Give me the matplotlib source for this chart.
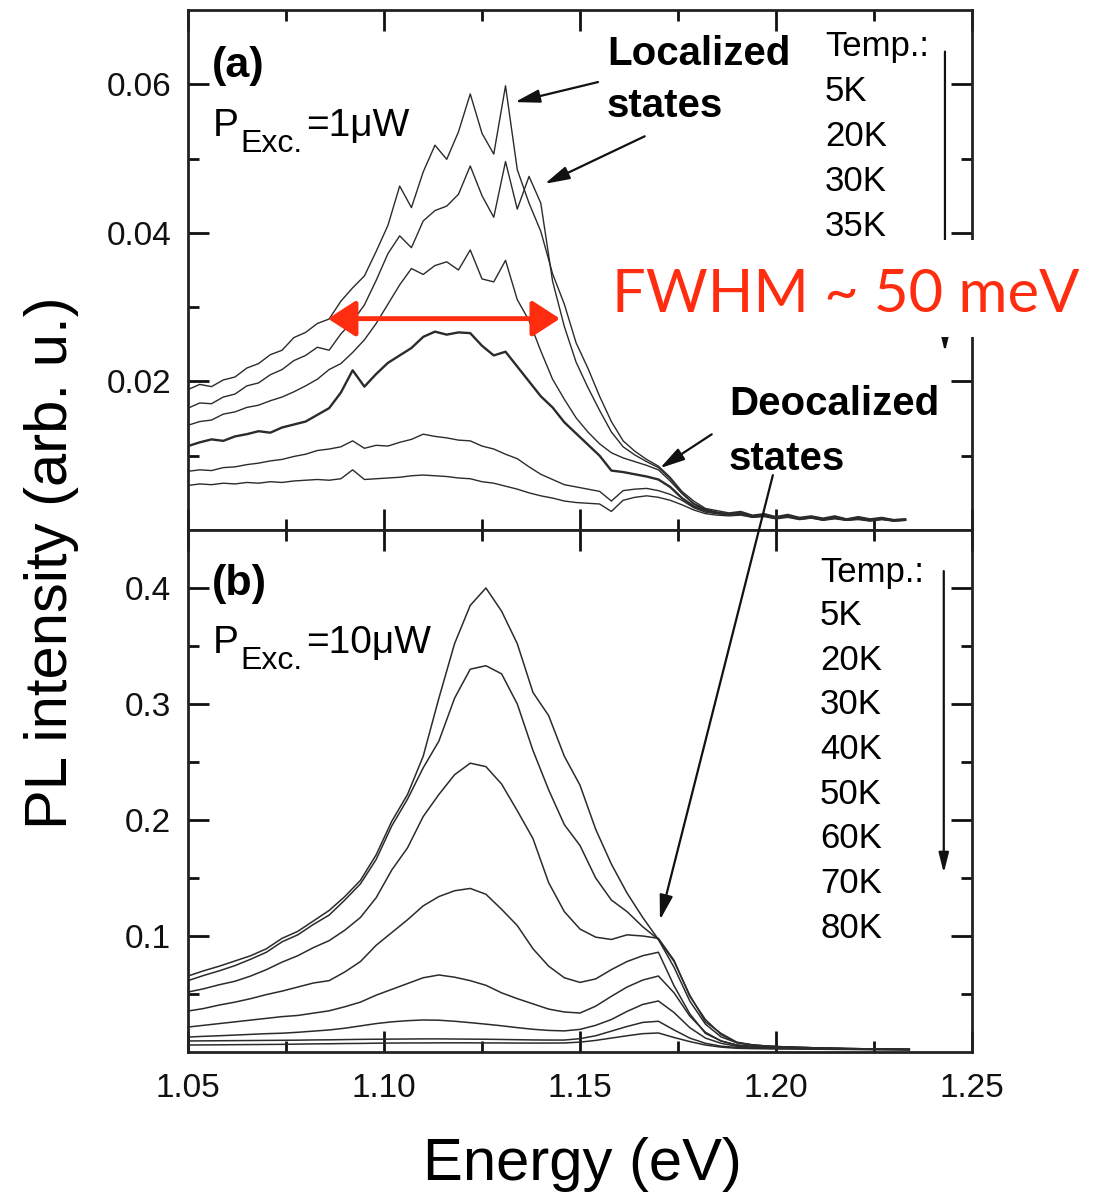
import numpy as np
import matplotlib
matplotlib.use("Agg")
import matplotlib.pyplot as plt
from matplotlib.patches import Rectangle, ConnectionPatch
from matplotlib.ticker import FixedLocator, FormatStrFormatter

plt.rcParams['font.family'] = ['Liberation Sans', 'DejaVu Sans']

W, H = 1108, 1193

# ---- panel (a): P_exc = 1 uW, values in units of 1e-3 (arb. u.) ----
# sampling grid used for reading the spectra (step 3 meV)
energy_a = np.round(np.arange(62) * 0.003 + 1.050, 3)
temps_a = ['5K', '20K', '30K', '35K']
pl_a_5K = [18.9, 19.6, 19.3, 20.2, 20.6, 21.8, 22.4, 23.6, 24.2, 25.9, 26.6, 27.8, 28.4, 30.8, 32.6, 34.2,
           37.5, 41.0, 46.3, 43.4, 48.2, 51.8, 49.9, 53.6, 58.7, 53.4, 50.6, 59.8, 48.5, 44.0, 40.2, 34.5,
           30.4, 25.2, 21.8, 18.0, 14.6, 12.0, 10.6, 9.5, 8.6, 7.1, 5.2, 3.9, 2.9, 2.6, 2.3, 2.5, 2.0, 2.2,
           1.8, 2.1, 1.7, 1.9, 1.6, 1.9, 1.5, 1.8, 1.5, 1.7, 1.4, 1.5]
pl_a_20K = [16.4, 17.1, 17.0, 17.9, 18.3, 19.4, 19.8, 20.9, 21.6, 22.8, 23.5, 24.6, 24.2, 26.4, 28.1, 30.3,
            33.6, 37.2, 39.6, 38.0, 41.6, 43.0, 43.6, 45.2, 49.0, 45.0, 42.1, 49.6, 43.2, 47.6, 44.0, 33.5,
            27.4, 22.6, 19.2, 16.1, 13.2, 11.2, 10.1, 9.2, 8.4, 6.9, 5.0, 3.6, 2.8, 2.4, 2.2, 2.4, 1.9, 2.1,
            1.7, 2.0, 1.6, 1.8, 1.5, 1.8, 1.4, 1.7, 1.4, 1.6, 1.3, 1.4]
pl_a_30K = [14.1, 14.6, 14.8, 15.6, 15.9, 16.5, 16.8, 17.4, 17.9, 18.6, 19.4, 20.3, 21.6, 22.4, 23.9, 25.6,
            27.8, 30.4, 33.0, 35.2, 34.4, 35.6, 36.1, 35.0, 37.7, 33.8, 33.4, 36.3, 31.0, 28.2, 24.1, 20.3,
            17.6, 15.1, 13.2, 11.6, 10.4, 9.7, 9.2, 8.7, 8.1, 6.6, 4.9, 3.5, 2.7, 2.3, 2.1, 2.3, 1.8, 2.0,
            1.7, 1.9, 1.5, 1.8, 1.5, 1.7, 1.4, 1.6, 1.3, 1.6, 1.3, 1.4]
pl_a_35K = [11.3, 11.8, 12.2, 12.0, 12.6, 12.9, 13.3, 13.1, 13.8, 14.2, 14.6, 15.5, 16.4, 18.5, 21.5, 19.3,
            21.0, 22.5, 23.5, 24.5, 26.0, 26.7, 26.3, 26.6, 26.5, 24.8, 23.5, 24.0, 22.0, 20.0, 18.0, 16.5,
            14.5, 13.0, 11.5, 10.0, 8.0, 7.8, 7.5, 7.2, 6.8, 5.8, 4.3, 3.2, 2.6, 2.3, 2.1, 2.2, 1.8, 2.0,
            1.6, 1.9, 1.5, 1.7, 1.4, 1.7, 1.4, 1.6, 1.3, 1.5, 1.3, 1.4]
pl_a_40K = [7.9, 8.1, 8.0, 8.4, 8.5, 8.8, 9.0, 9.3, 9.5, 9.9, 10.2, 10.7, 10.9, 11.2, 12.0, 11.0,
            11.4, 11.3, 11.8, 12.2, 12.9, 12.6, 12.4, 12.1, 12.0, 11.3, 10.9, 10.2, 9.6, 8.5, 7.5, 6.8,
            6.1, 5.8, 5.5, 5.2, 3.9, 5.3, 5.5, 5.6, 5.3, 4.8, 4.0, 3.0, 2.4, 2.2, 2.0, 2.1, 1.8, 1.9,
            1.6, 1.8, 1.5, 1.7, 1.4, 1.6, 1.3, 1.5, 1.3, 1.5, 1.2, 1.3]
pl_a_50K = [6.0, 6.2, 6.1, 6.3, 6.2, 6.4, 6.3, 6.5, 6.4, 6.6, 6.7, 6.8, 6.7, 6.9, 8.1, 6.8,
            6.9, 7.0, 7.1, 7.3, 7.4, 7.3, 7.2, 7.0, 6.9, 6.5, 6.3, 5.9, 5.5, 5.0, 4.6, 4.3,
            3.9, 3.7, 3.6, 3.5, 2.5, 4.0, 4.4, 4.6, 4.4, 4.0, 3.4, 2.7, 2.2, 2.0, 1.9, 2.0, 1.7, 1.8,
            1.5, 1.7, 1.4, 1.6, 1.3, 1.5, 1.3, 1.4, 1.2, 1.4, 1.2, 1.3]
spectra_a = [pl_a_5K, pl_a_20K, pl_a_30K, pl_a_35K, pl_a_40K, pl_a_50K]
widths_a = [1.0, 1.0, 1.0, 1.7, 1.0, 1.0]

# ---- panel (b): P_exc = 10 uW, values in units of 1e-3 (arb. u.) ----
energy_b = np.round(np.arange(47) * 0.004 + 1.050, 3)
temps_b = ['5K', '20K', '30K', '40K', '50K', '60K', '70K', '80K']
pl_b_5K = [65.5, 70, 74, 78.5, 83, 89, 98, 104, 113, 122, 134, 148, 170, 199, 222, 255, 305, 352, 385, 400,
           380, 352, 310, 290, 255, 230, 192, 162, 137, 116, 97, 73, 44, 24, 13, 8, 6, 5, 4.4, 4.0,
           3.6, 3.3, 3.0, 2.8, 2.6, 2.4, 2.3]
pl_b_20K = [61.5, 66, 70, 74.5, 80, 86, 95, 101, 110, 118, 131, 145, 166, 195, 218, 245, 268, 305, 330, 333,
            326, 300, 260, 226, 196, 178, 150, 131, 121, 108, 97, 78, 49, 26, 16, 8.5, 6.2, 5.1, 4.5, 4.0,
            3.6, 3.3, 3.0, 2.8, 2.6, 2.4, 2.3]
pl_b_30K = [51.7, 54.5, 58, 61, 65.5, 71, 77.5, 83, 90, 96, 105, 116, 133, 157, 176, 203, 222, 239, 249, 246,
            231, 208, 184, 146, 121, 106, 99, 97, 101, 100, 98, 79, 48, 28, 15, 8, 6, 5, 4.4, 4.0,
            3.6, 3.3, 3.0, 2.8, 2.6, 2.4, 2.3]
pl_b_40K = [35.3, 37.5, 40.5, 43, 46, 49.5, 52.5, 56, 59.5, 61.5, 69, 78, 92, 103, 114, 126, 134, 139, 141, 136,
            123, 109, 89, 74, 64, 60, 63, 71, 78, 83, 86, 57, 33, 16, 9.5, 6, 4.8, 4.2, 3.8, 3.5,
            3.2, 3.0, 2.8, 2.6, 2.4, 2.3, 2.2]
pl_b_50K = [21.5, 23, 24.5, 26, 27.5, 29, 30.5, 31.5, 33.5, 35.5, 39, 43, 49, 54, 59, 64, 66.4, 64.5, 61.5, 57.5,
            51, 46, 41.5, 37, 34.5, 33.6, 39.5, 48, 56, 62, 65.5, 51, 31, 17, 9.5, 6, 4.8, 4.2, 3.8, 3.5,
            3.2, 3.0, 2.8, 2.6, 2.4, 2.3, 2.2]
pl_b_60K = [12.9, 13.5, 14, 14.6, 15.2, 15.8, 16.2, 17, 18, 19, 20.5, 22.5, 24.5, 26, 27, 27.6, 27.4, 26.5, 25.3, 24,
            22.6, 21, 19.6, 18.6, 18.2, 19.5, 23, 28, 35, 41, 44, 34, 21, 12, 7.5, 5, 4.2, 3.7, 3.4, 3.1,
            2.9, 2.7, 2.5, 2.4, 2.3, 2.2, 2.1]
pl_b_70K = [9.5, 9.6, 9.7, 9.8, 9.9, 10.0, 10.1, 10.2, 10.4, 10.5, 10.7, 10.9, 11.0, 11.1, 11.2, 11.3, 11.3, 11.2,
            11.1, 11.0, 10.8, 10.6, 10.4, 10.3, 10.3, 11.5, 14, 18, 22, 25.5, 26.5, 19, 12, 7.5, 5, 4.0,
            3.5, 3.2, 3.0, 2.8, 2.6, 2.5, 2.4, 2.3, 2.2, 2.1, 2.0]
pl_b_80K = [6.0, 6.1, 6.2, 6.3, 6.4, 6.5, 6.6, 6.8, 7.0, 7.1, 7.3, 7.4, 7.6, 7.7, 7.8, 7.8, 7.9, 7.9, 7.9, 7.8,
            7.8, 7.7, 7.7, 7.7, 7.8, 8.5, 10, 12, 14, 15.8, 16.4, 12.5, 9, 6, 4.2, 3.2, 2.9, 2.7, 2.6, 2.5,
            2.4, 2.3, 2.2, 2.1, 2.0, 2.0, 1.9]
spectra_b = [pl_b_5K, pl_b_20K, pl_b_30K, pl_b_40K, pl_b_50K, pl_b_60K, pl_b_70K, pl_b_80K]

line_color = '#2b2b2b'
red = '#ff2d10'


def px(x, y):
    """pixel position (from top-left) -> figure fraction"""
    return x / W, 1 - y / H


fig = plt.figure(figsize=(W / 100, H / 100), dpi=100)
ax1 = fig.add_axes([188 / W, 1 - 530 / H, 784 / W, 520 / H])
ax2 = fig.add_axes([188 / W, 1 - 1052 / H, 784 / W, 522 / H])

for spec, lw in zip(spectra_a, widths_a):
    ax1.plot(energy_a, np.array(spec) * 1e-3, color=line_color, lw=lw)
for spec in spectra_b:
    ax2.plot(energy_b, np.array(spec) * 1e-3, color=line_color, lw=1.1)

ax1.set_ylim(0, 0.07)
ax2.set_ylim(0, 0.45)
ax1.yaxis.set_major_locator(FixedLocator([0.02, 0.04, 0.06]))
ax1.yaxis.set_minor_locator(FixedLocator([0.01, 0.03, 0.05]))
ax1.yaxis.set_major_formatter(FormatStrFormatter('%.2f'))
ax2.yaxis.set_major_locator(FixedLocator([0.1, 0.2, 0.3, 0.4]))
ax2.yaxis.set_minor_locator(FixedLocator([0.05, 0.15, 0.25, 0.35]))
ax2.yaxis.set_major_formatter(FormatStrFormatter('%.1f'))

for ax in (ax1, ax2):
    ax.set_xlim(1.05, 1.25)
    ax.xaxis.set_major_locator(FixedLocator([1.05, 1.10, 1.15, 1.20, 1.25]))
    ax.xaxis.set_minor_locator(FixedLocator([1.075, 1.125, 1.175, 1.225]))
    ax.xaxis.set_major_formatter(FormatStrFormatter('%.2f'))
    ax.tick_params(which='both', direction='in', top=True, right=True, width=2,
                   labelsize=24, colors='#111111')
    ax.tick_params(which='major', length=15)
    ax.tick_params(which='minor', length=8)
    ax.tick_params(axis='x', pad=15)
    ax.tick_params(axis='y', pad=12)
    for sp in ax.spines.values():
        sp.set_linewidth(2)
        sp.set_color('#222222')
ax1.tick_params(labelbottom=False)

# axis labels
fig.text(*px(52, 563), 'PL intensity (arb. u.)', rotation=90, ha='center', va='center', fontsize=43)
fig.text(*px(582, 1180), 'Energy (eV)', ha='center', va='baseline', fontsize=43)

# panel tags and excitation power
fig.text(*px(212, 77), '(a)', fontsize=31, fontweight='bold', va='baseline')
fig.text(*px(212, 595), '(b)', fontsize=31, fontweight='bold', va='baseline')
for y0, power in ((136, '=1\u03bcW'), (653, '=10\u03bcW')):
    fig.text(*px(213, y0), 'P', fontsize=28, va='baseline')
    fig.text(*px(240, y0 + 16), 'Exc.', fontsize=23, va='baseline')
    fig.text(*px(306, y0), power, fontsize=28, va='baseline')

# temperature lists
fig.text(*px(825, 56), 'Temp.:', fontsize=25, va='baseline')
for k, t in enumerate(temps_a):
    fig.text(*px(825, 101 + 45 * k), t, fontsize=25, va='baseline')
fig.text(*px(820, 582), 'Temp.:', fontsize=25, va='baseline')
for k, t in enumerate(temps_b):
    fig.text(*px(820, 625 + 44.7 * k), t, fontsize=25, va='baseline')

arrow_kw = dict(arrowstyle='-|>,head_length=0.75,head_width=0.2', color='#111111', lw=1.6,
                shrinkA=0, shrinkB=0, mutation_scale=20)
ax1.annotate('', xy=(1.2431, 0.0240), xytext=(1.2431, 0.0644),
             arrowprops=dict(arrow_kw, arrowstyle='-|>,head_length=0.6,head_width=0.15'))
ax2.annotate('', xy=(1.2428, 0.1543), xytext=(1.2428, 0.4146),
             arrowprops=dict(arrow_kw, arrowstyle='-|>,head_length=0.6,head_width=0.15'))

# localized / delocalized states
fig.text(*px(607, 65), 'Localized', fontsize=29, fontweight='bold', va='baseline')
fig.text(*px(607, 117), 'states', fontsize=29, fontweight='bold', va='baseline')
ax1.annotate('', xy=(1.1334, 0.0576), xytext=(1.1546, 0.0603), arrowprops=arrow_kw)
ax1.annotate('', xy=(1.1410, 0.0466), xytext=(1.1665, 0.0530), arrowprops=arrow_kw)

fig.text(*px(729, 415), 'Deocalized', fontsize=29, fontweight='bold', va='baseline')
fig.text(*px(729, 470), 'states', fontsize=29, fontweight='bold', va='baseline')
ax1.annotate('', xy=(1.1704, 0.00832), xytext=(1.1836, 0.01288), arrowprops=arrow_kw)
long_arrow = ConnectionPatch(xyA=(1.1992, 0.00738), coordsA=ax1.transData,
                             xyB=(1.1704, 0.1138), coordsB=ax2.transData,
                             arrowstyle='-|>,head_length=0.75,head_width=0.2', mutation_scale=20,
                             color='#111111', lw=1.6, shrinkA=0, shrinkB=0, zorder=5)
fig.add_artist(long_arrow)

# FWHM marker
ax1.annotate('', xy=(1.0857, 0.02845), xytext=(1.1449, 0.02845),
             arrowprops=dict(arrowstyle='<|-|>,head_length=0.85,head_width=0.55', color=red,
                             lw=3.5, shrinkA=0, shrinkB=0, mutation_scale=20))
fig.add_artist(Rectangle(px(598, 337), (1100 - 598) / W, (337 - 240) / H,
                         transform=fig.transFigure, facecolor='white', edgecolor='none', zorder=10))
fig.text(*px(612, 312), 'FWHM ~ 50 meV', fontsize=43, color=red, va='baseline',
         family=['Lato', 'DejaVu Sans'], zorder=11)

fig.savefig('out.png', dpi=100)
